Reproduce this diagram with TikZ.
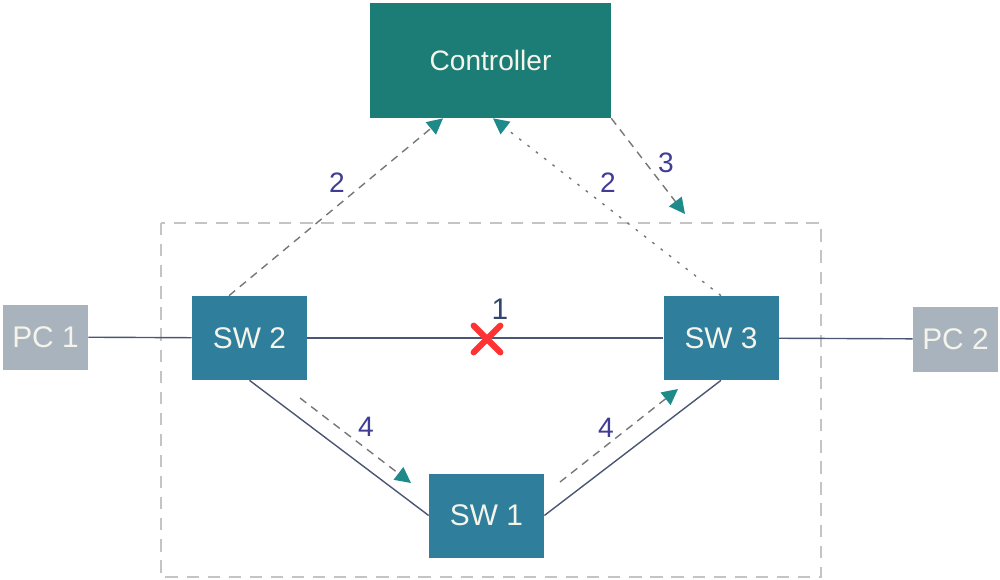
\documentclass[tikz,border=0pt]{standalone}
\usepackage{fontspec}
\setmainfont{Liberation Sans}
\usetikzlibrary{arrows.meta,calc}
\definecolor{ctrl}{HTML}{1C7C76}
\definecolor{swc}{HTML}{2F7E9C}
\definecolor{pcc}{HTML}{A9B3BD}
\definecolor{rectc}{HTML}{C4C4C4}
\definecolor{arrc}{HTML}{777777}
\definecolor{tipc}{HTML}{1F8A8A}
\definecolor{linec}{HTML}{4A5673}
\definecolor{numc}{HTML}{3F3D94}
\definecolor{onec}{HTML}{34466B}
\definecolor{txtc}{HTML}{F4F4EA}
\tikzset{
  box/.style={rectangle, inner sep=0pt, text=txtc, font=\fontsize{17}{20}\selectfont},
  ctrlbox/.style={box, fill=ctrl, minimum width=4.82cm, minimum height=2.3cm, font=\fontsize{16}{19}\selectfont},
  swbox/.style={box, fill=swc, minimum width=2.3cm, minimum height=1.68cm},
  pcbox/.style={box, fill=pcc, minimum width=1.7cm, minimum height=1.3cm},
  link/.style={draw=linec, line width=0.8pt},
  msg/.style={draw=arrc, line width=0.8pt, dash pattern=on 4.5pt off 3.5pt, -{Triangle[length=9pt,width=9pt,color=tipc]}},
  msgdot/.style={draw=arrc, line width=0.8pt, dash pattern=on 1.5pt off 4.5pt, -{Triangle[length=9pt,width=9pt,color=tipc]}},
  num/.style={text=numc, font=\fontsize{16}{19}\selectfont, inner sep=0pt}
}
\begin{document}
\begin{tikzpicture}[x=0.02cm,y=-0.02cm]
\useasboundingbox (0,0) rectangle (1000,579);
% dashed domain rectangle
\draw[rectc, line width=1.2pt, dash pattern=on 7pt off 5pt] (161,223) rectangle (821,577);
% nodes
\node[ctrlbox] (ctrl) at (490.5,60.5) {Controller};
\node[swbox] (sw2) at (249.5,338) {SW 2};
\node[swbox] (sw3) at (721,338) {SW 3};
\node[swbox] (sw1) at (486.5,515.5) {SW 1};
\node[pcbox] (pc1) at (45.5,337) {PC 1};
\node[pcbox] (pc2) at (955.5,339) {PC 2};
% links
\draw[link] (pc1) -- (sw2);
\draw[link] (sw2) -- (sw3);
\draw[link] (sw3) -- (pc2);
\draw[link] (sw2.south) -- (sw1.west);
\draw[link] (sw1.east) -- (sw3.south);
% failure mark
\node[inner sep=0pt, minimum size=0.52cm] (fail) at (487,339) {};
\draw[red!80!white, line width=3.5pt, line cap=round] (fail.north west) -- (fail.south east);
\draw[red!80!white, line width=3.5pt, line cap=round] (fail.north east) -- (fail.south west);
\node[text=onec, font=\fontsize{17}{20}\selectfont, inner sep=0pt] (l1) at (500,309) {1};
% control messages
\draw[msg] ([xshift=-0.41cm]sw2.north) -- ([xshift=-0.95cm]ctrl.south);
\draw[msgdot] (sw3.north) -- ([xshift=0.05cm]ctrl.south);
\coordinate (c3) at (685,214);
\draw[msg] (ctrl.south east) -- (c3);
\coordinate (a4s) at (300,398);
\coordinate (a4e) at (411,483);
\draw[msg] (a4s) -- (a4e);
\coordinate (b4s) at (560,482);
\coordinate (b4e) at (678,389);
\draw[msg] (b4s) -- (b4e);
% labels
\node[num] (n2a) at (337,183) {2};
\node[num] (n2b) at (608,183) {2};
\node[num] (n3) at (666,163) {3};
\node[num] (n4a) at (366,427) {4};
\node[num] (n4b) at (606,428) {4};
\end{tikzpicture}
\end{document}
